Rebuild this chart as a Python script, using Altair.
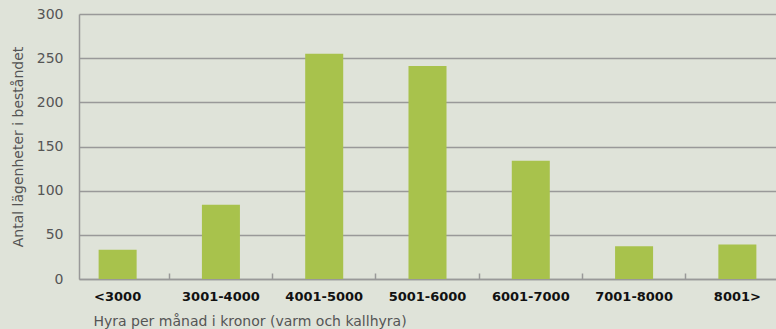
import altair as alt
import pandas as pd

categories = ["<3000", "3001-4000", "4001-5000", "5001-6000", "6001-7000", "7001-8000", "8001>"]
values = [33, 84, 255, 241, 134, 37, 39]

df = pd.DataFrame({"kategori": categories, "antal": values})

BG = "#DFE3D9"
GRID = "#999999"
FONT = "DejaVu Sans"

xscale = alt.Scale(domain=categories, paddingInner=0.632, paddingOuter=0.19)
yscale = alt.Scale(domain=[0, 300], nice=False)

yenc = alt.Y("antal:Q", scale=yscale,
             axis=alt.Axis(title="Antal lägenheter i beståndet", values=[0, 50, 100, 150, 200, 250, 300],
                           labelFont=FONT, labelFontSize=14, labelColor="#555555",
                           labelPadding=16, ticks=False, domainColor=GRID, domainWidth=1.5,
                           gridColor=GRID, gridWidth=1.5, grid=True,
                           titleFont=FONT, titleFontSize=14, titleFontWeight="normal",
                           titleColor="#555555", titlePadding=11))

bars = alt.Chart(df).mark_bar(color="#A8C24C").encode(
    x=alt.X("kategori:N", sort=categories, scale=xscale,
            axis=alt.Axis(title="Hyra per månad i kronor (varm och kallhyra)",
                          labelAngle=0, labelFont=FONT, labelFontWeight="bold",
                          labelFontSize=13, labelColor="#111111", labelPadding=11,
                          ticks=False, domainColor=GRID, domainWidth=1.5,
                          titleFont=FONT, titleFontSize=14, titleFontWeight="normal",
                          titleColor="#555555", titleAnchor="start", titleX=14,
                          titlePadding=11)),
    y=yenc,
)

ticks_layer = alt.Chart(df).mark_bar(opacity=0).encode(
    x=alt.X("kategori:N", sort=categories, scale=xscale,
            axis=alt.Axis(orient="top", offset=-265, labels=False, domain=False, grid=False,
                          title=None, ticks=True, bandPosition=1.86, tickSize=6,
                          tickColor=GRID, tickWidth=1.5)),
    y=yenc,
)

chart = alt.layer(bars, ticks_layer).resolve_axis(x="independent").properties(
    width=697, height=265,
    padding={"left": 79, "top": 14, "right": 0, "bottom": 50},
    autosize=alt.AutoSizeParams(type="none"),
    background=BG,
).configure_view(stroke=None)

chart.save("out.html", embed_options={"renderer": "svg", "actions": False})
